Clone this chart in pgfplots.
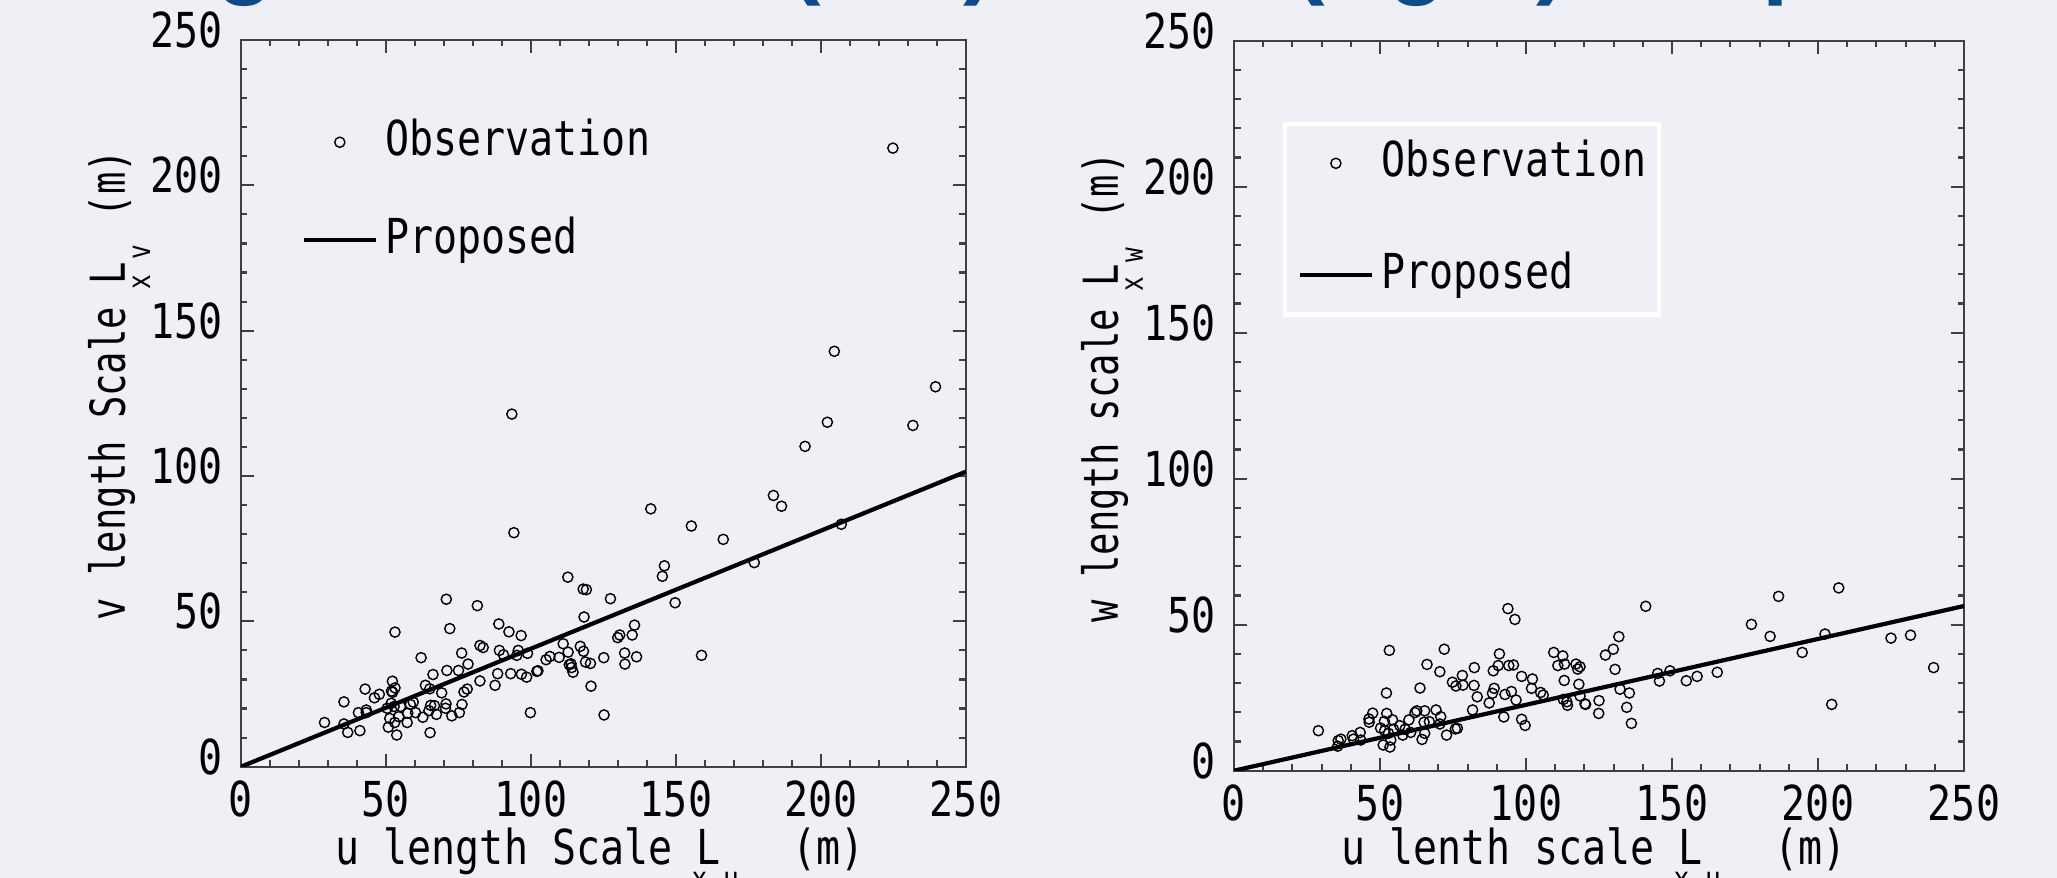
\documentclass[border=0pt]{standalone}
\usepackage{fontspec}
\setmainfont{DejaVu Sans Mono}[FakeStretch=0.83]
\newfontfamily\titlefont{Liberation Sans}
\usepackage{pgfplots}
\usepackage{pgfplotstable}
\pgfplotsset{compat=1.18}

\definecolor{bg}{RGB}{239,240,246}
\definecolor{ttl}{RGB}{12,76,140}
\newcommand{\lf}{\fontsize{13.7}{16}\selectfont}
% subscript set under the L, as the original software did
\newcommand{\lsub}[1]{\rlap{\hspace{-0.05cm}\raisebox{-0.25cm}{\fontsize{9}{10}\selectfont #1}}}

% u vs v (left)
\pgfplotstableread{
u v
28.8 15.2
35.5 22.3
35.5 14.7
36.8 11.8
41.0 12.4
40.5 18.6
42.8 26.7
43.2 19.5
43.2 18.6
46.0 23.7
47.7 24.9
50.4 20.1
50.8 13.6
51.3 16.6
52.2 29.4
51.9 26.0
52.3 25.6
53.1 27.1
53.1 46.3
51.8 21.8
52.8 20.7
53.0 15.2
53.7 10.9
54.4 17.2
55.0 20.7
57.3 15.2
57.5 18.4
58.4 21.4
59.4 22.2
60.2 18.6
62.1 37.5
62.7 17.0
63.6 28.0
65.1 26.8
64.8 19.3
65.4 21.1
66.2 31.7
65.2 11.7
66.7 21.0
67.4 18.0
69.2 25.4
70.8 57.6
71.0 33.1
70.7 21.6
70.5 20.1
72.0 47.5
72.7 17.5
75.0 33.1
75.3 18.6
76.2 21.4
76.1 39.1
76.9 25.7
78.0 26.7
78.3 35.3
81.5 55.4
82.4 41.7
83.5 41.0
82.4 29.5
87.6 28.0
88.5 32.0
88.9 49.1
89.1 40.0
90.5 38.5
92.4 46.4
93.0 32.0
94.1 80.5
93.4 121.3
95.1 38.3
95.6 40.0
96.6 45.1
96.7 31.8
98.5 30.8
98.8 39.0
99.8 18.6
102.0 32.8
102.4 33.0
105.2 36.8
106.5 37.9
109.7 37.6
111.1 42.3
112.7 65.2
112.8 39.4
113.2 35.1
113.8 35.4
114.0 34.1
114.5 32.5
117.0 41.4
118.0 61.1
119.1 60.9
118.1 39.7
118.3 51.5
118.8 36.0
120.5 35.5
120.7 27.7
125.1 37.5
125.2 17.8
127.4 57.8
129.9 44.4
130.6 45.3
132.3 39.1
132.4 35.3
134.9 45.3
135.7 48.7
136.4 37.8
141.3 88.7
145.3 65.5
146.0 69.1
149.7 56.4
155.3 82.8
158.8 38.3
166.3 78.2
177.0 70.2
183.6 93.3
186.4 89.6
194.5 110.2
202.2 118.5
207.0 83.4
204.6 142.9
224.8 212.8
231.7 117.4
239.5 130.7
}\obsv

% u vs w (right)
\pgfplotstableread{
u w
28.9 13.7
35.5 8.4
35.7 10.3
36.6 10.8
40.5 12.0
40.9 10.8
43.2 13.1
43.4 10.5
46.2 17.7
46.3 16.6
47.5 19.7
52.2 26.6
53.2 41.2
52.3 19.6
51.5 16.9
50.2 14.6
51.6 13.7
51.1 8.8
53.4 8.1
53.7 10.5
52.9 12.8
54.3 17.4
54.6 14.2
56.8 15.4
57.8 12.2
58.6 14.2
59.9 17.4
60.5 13.1
62.0 19.9
62.6 20.5
63.7 28.3
64.4 10.7
65.3 12.8
65.3 20.5
65.1 16.6
66.9 16.8
66.1 36.4
69.2 20.8
70.5 33.9
70.8 18.5
70.5 16.0
72.0 41.6
72.8 12.2
74.8 30.3
76.0 29.0
75.8 14.3
76.5 14.5
78.2 32.6
78.4 29.3
81.7 20.8
82.2 29.2
82.3 35.3
83.3 25.3
87.4 23.2
88.5 26.5
88.8 34.2
89.1 28.2
90.5 36.0
90.9 40.0
92.4 18.4
92.8 26.1
93.8 55.5
94.1 36.0
95.0 27.1
95.7 36.2
96.2 51.8
96.6 24.2
98.5 17.6
98.5 32.3
99.7 15.5
101.9 28.2
102.2 31.4
105.0 26.8
105.9 25.9
109.5 40.5
110.9 36.0
112.6 39.3
113.2 36.5
113.1 30.9
112.8 24.4
114.0 23.6
114.2 22.4
117.1 36.5
117.7 34.8
118.5 35.6
118.1 29.6
118.5 25.6
120.2 22.9
120.4 22.7
125.0 24.0
124.9 19.6
127.2 39.6
129.9 41.6
130.5 34.7
131.8 45.9
132.2 27.9
135.4 26.6
134.5 21.7
136.1 16.2
141.0 56.3
145.1 33.3
145.7 30.7
149.3 34.2
154.9 30.8
158.6 32.3
165.5 33.7
177.2 50.1
183.6 46.0
186.5 59.7
194.6 40.5
202.4 46.8
204.7 22.7
207.1 62.6
225.0 45.4
231.7 46.4
239.6 35.3
}\obsw

\pgfplotsset{
  kg/.style={
    scale only axis, anchor=south west,
    xmin=0, xmax=250, ymin=0, ymax=250,
    xtick={0,50,...,250}, ytick={0,50,...,250},
    minor tick num=4, tick align=inside,
    major tick length=0.13cm, minor tick length=0.065cm,
    axis line style={black!75, line width=0.6pt},
    tick style={black!75, line width=0.6pt},
    /pgf/number format/assume math mode=true,
    tick label style={font=\lf},
    xticklabel style={inner sep=0pt, anchor=north, yshift=-0.13cm},
    yticklabel style={inner sep=0pt, anchor=east, xshift=-0.18cm, yshift=0.10cm},
    label style={font=\lf, inner sep=0pt},
    legend cell align=left,
    legend image code/.code={\draw[mark repeat=2,mark phase=2,##1] plot coordinates {(0cm,0cm) (0.36cm,0cm) (0.72cm,0cm)};},
  },
  obs/.style={only marks, mark=o, mark size=1.45pt, mark options={line width=0.4pt, black}},
  prop/.style={no marks, black, line width=1.2pt},
}

\begin{document}
\begin{tikzpicture}
\useasboundingbox (0,0) rectangle (20.57cm,8.78cm);
\fill[bg] (0,0) rectangle (20.57cm,8.78cm);

% slide title, only its lowest part falls inside the picture
\begin{scope}[every node/.style={anchor=base west, inner sep=0pt, text=ttl,
    font=\titlefont\bfseries\fontsize{27}{30}\selectfont}]
  \node at (0.47cm,8.91cm) {Length scale of v};
  \node at (7.89cm,8.91cm) {(left)};
  \node at (10.3cm,8.91cm) {and w};
  \node at (12.93cm,8.91cm) {(right)};
  \node at (15.67cm,8.91cm) {comparison};
\end{scope}

\begin{axis}[kg, at={(2.41cm,1.113cm)}, width=7.25cm, height=7.267cm,
  xlabel={u length Scale \lsub{x u}L\ \ \ (m)},
  ylabel={\scalebox{0.93}[1]{v length Scale \lsub{x v}L\ \ (m)}},
  xlabel style={at={(axis description cs:0.4956,-0.134)}, anchor=base},
  ylabel style={at={(axis description cs:-0.16,0.525)}, anchor=base},
  legend style={draw=none, fill=none, inner sep=0pt, font=\lf,
    at={(axis description cs:0.0828,0.8926)}, anchor=north west,
    row sep=0.507cm, column sep=0.075cm,
    nodes={inner sep=0pt, text height=0.37cm, text depth=0.1cm}},
]
\addplot[obs] table[x=u, y=v] {\obsv};
\addlegendentry{Observation}
\addplot[prop] coordinates {(0,0) (250,101.5)};
\addlegendentry{Proposed}
\end{axis}

\begin{axis}[kg, at={(12.34cm,1.073cm)}, width=7.30cm, height=7.30cm,
  xlabel={u lenth scale \lsub{x u}L\ \ \ (m)},
  ylabel={\scalebox{0.93}[1]{w length scale \lsub{x w}L\ \ (m)}},
  xlabel style={at={(axis description cs:0.4936,-0.129)}, anchor=base},
  ylabel style={at={(axis description cs:-0.159,0.525)}, anchor=base},
  legend style={draw=white, line width=1.2pt, fill=none, font=\lf,
    inner xsep=0.13cm, inner ysep=0.16cm,
    at={(axis description cs:0.0667,0.889)}, anchor=north west,
    row sep=0.647cm, column sep=0.075cm,
    nodes={inner sep=0pt, text height=0.37cm, text depth=0.1cm}},
]
\addplot[obs] table[x=u, y=w] {\obsw};
\addlegendentry{Observation}
\addplot[prop] coordinates {(0,0) (250,56.4)};
\addlegendentry{Proposed}
\end{axis}
\end{tikzpicture}
\end{document}
